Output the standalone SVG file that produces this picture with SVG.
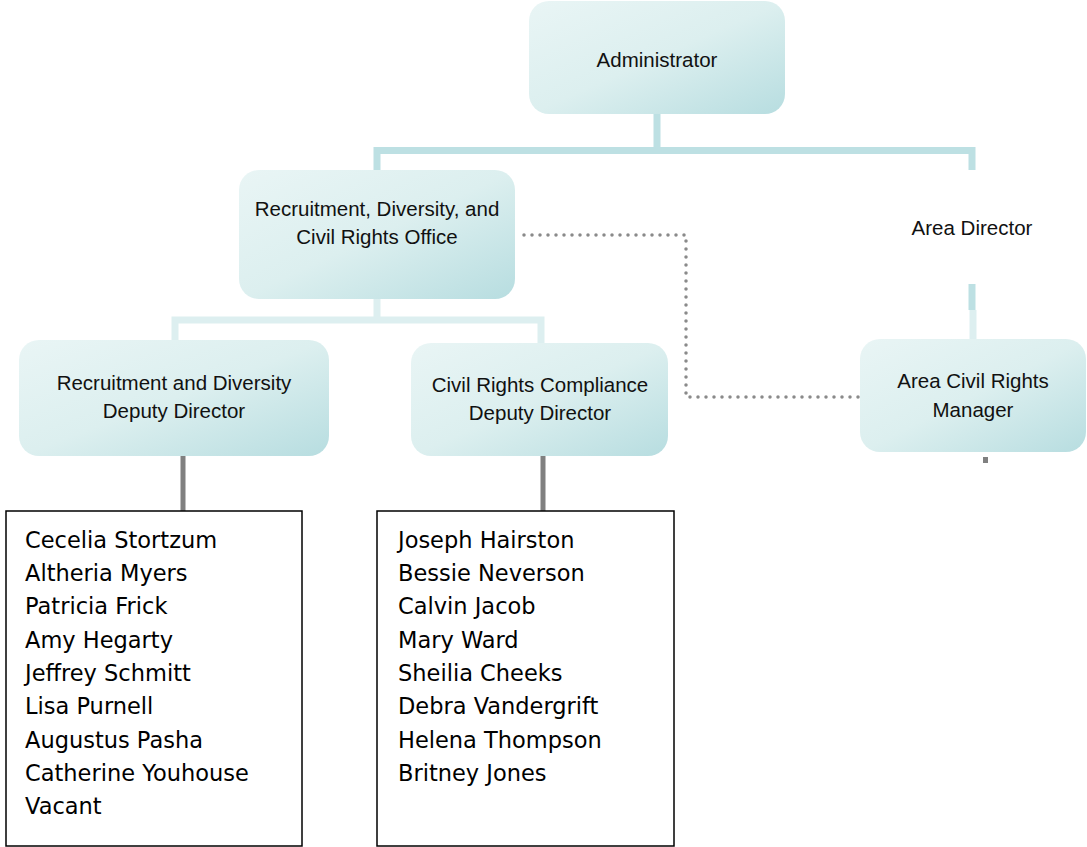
<svg xmlns="http://www.w3.org/2000/svg" width="1087" height="847" viewBox="0 0 1087 847">
<defs>
<linearGradient id="g" x1="0" y1="0" x2="1" y2="1">
<stop offset="0" stop-color="#e9f5f5"/>
<stop offset="0.5" stop-color="#dcefef"/>
<stop offset="1" stop-color="#b7dde0"/>
</linearGradient>
</defs>
<style>
.box{fill:url(#g);}
.lbl{font-family:"Liberation Sans",Arial,sans-serif;font-size:20.5px;fill:#111;text-anchor:middle;}
.names{font-family:"Comic Sans MS","DejaVu Sans",sans-serif;font-size:22.5px;fill:#000;}
.list{fill:#fff;stroke:#000;stroke-width:1.5;}
.c1{fill:none;stroke:#bde0e3;stroke-width:7;}
.c2{fill:none;stroke:#ddeff0;stroke-width:7;}
.c3{fill:none;stroke:#808080;stroke-width:5;}
.dot{fill:none;stroke:#8a8a8a;stroke-width:3.5;stroke-linecap:round;stroke-dasharray:0 8;}
</style>
<rect width="1087" height="847" fill="#fff"/>
<g id="connectors">
<path class="c1" d="M657,114 V150.5 M377,170 V150.5 H972 V170"/>
<path class="c1" d="M972,284 V310"/>
<path class="c2" d="M973,310 V340"/>
<path class="c2" d="M377,299 V320 M175,340 V320 H541 V343"/>
<path class="c3" d="M183,456 V511 M543,456 V511"/>
<path class="dot" d="M524,235 H686 V397 H860"/>
<rect x="983" y="457" width="5" height="6" fill="#808080"/>
</g>
<g id="administrator">
<rect class="box" x="529" y="1" width="256" height="113" rx="20"/>
<text class="lbl" x="657" y="67">Administrator</text>
</g>
<g id="rdcro">
<rect class="box" x="239" y="170" width="276" height="129" rx="20"/>
<text class="lbl" x="377" y="216">Recruitment, Diversity, and</text>
<text class="lbl" x="377" y="244">Civil Rights Office</text>
</g>
<g id="area-director">
<text class="lbl" x="972" y="235">Area Director</text>
</g>
<g id="rd-deputy">
<rect class="box" x="19" y="340" width="310" height="116" rx="20"/>
<text class="lbl" x="174" y="390">Recruitment and Diversity</text>
<text class="lbl" x="174" y="418">Deputy Director</text>
</g>
<g id="crc-deputy">
<rect class="box" x="411" y="343" width="257" height="113" rx="20"/>
<text class="lbl" x="540" y="392">Civil Rights Compliance</text>
<text class="lbl" x="540" y="420">Deputy Director</text>
</g>
<g id="acrm">
<rect class="box" x="860" y="339" width="226" height="113" rx="20"/>
<text class="lbl" x="973" y="388">Area Civil Rights</text>
<text class="lbl" x="973" y="417">Manager</text>
</g>
<g id="rd-staff">
<rect class="list" x="6" y="511" width="296" height="335"/>
<text class="names" x="25" y="548">Cecelia Stortzum</text>
<text class="names" x="25" y="581">Altheria Myers</text>
<text class="names" x="25" y="614">Patricia Frick</text>
<text class="names" x="25" y="648">Amy Hegarty</text>
<text class="names" x="25" y="681">Jeffrey Schmitt</text>
<text class="names" x="25" y="714">Lisa Purnell</text>
<text class="names" x="25" y="748">Augustus Pasha</text>
<text class="names" x="25" y="781">Catherine Youhouse</text>
<text class="names" x="25" y="814">Vacant</text>
</g>
<g id="crc-staff">
<rect class="list" x="377" y="511" width="297" height="335"/>
<text class="names" x="398" y="548">Joseph Hairston</text>
<text class="names" x="398" y="581">Bessie Neverson</text>
<text class="names" x="398" y="614">Calvin Jacob</text>
<text class="names" x="398" y="648">Mary Ward</text>
<text class="names" x="398" y="681">Sheilia Cheeks</text>
<text class="names" x="398" y="714">Debra Vandergrift</text>
<text class="names" x="398" y="748">Helena Thompson</text>
<text class="names" x="398" y="781">Britney Jones</text>
</g>
</svg>
